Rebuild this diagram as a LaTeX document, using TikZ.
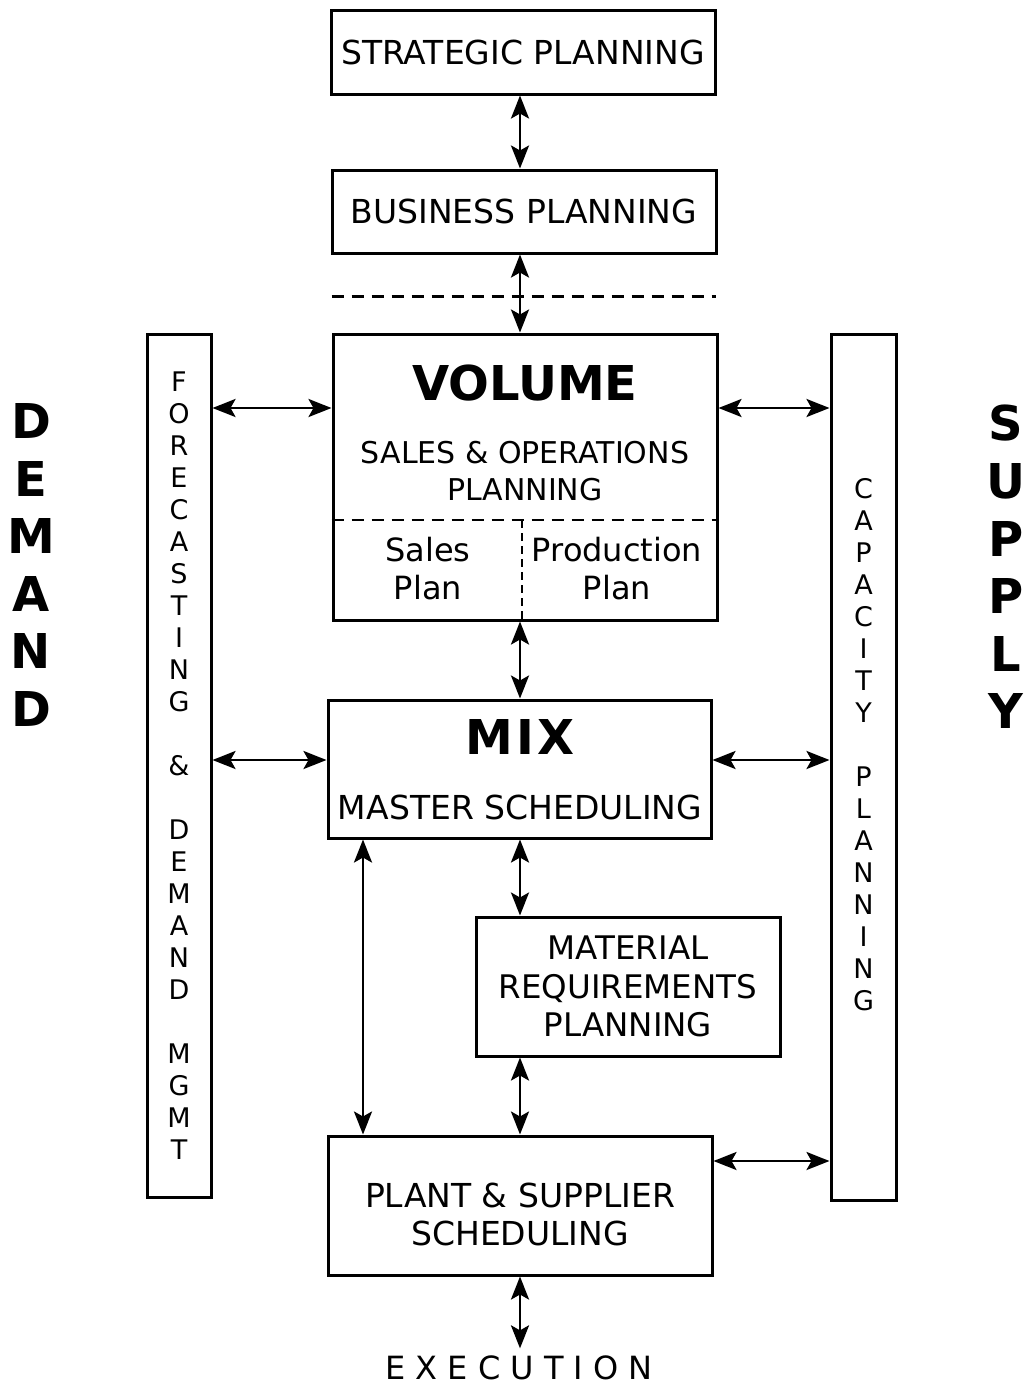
\documentclass[tikz,border=0pt]{standalone}
\usepackage{fontspec}
\setmainfont{DejaVu Sans}
\usetikzlibrary{arrows.meta,positioning}
\tikzset{
  >={Stealth[length=23pt,width=18pt,inset=5pt]},
  ar/.style={<->,line width=2.8pt},
  box/.style={draw,line width=3pt,inner sep=0pt,align=center,font=\fontsize{33}{38}\selectfont},
  txt/.style={align=center,font=\fontsize{33}{38}\selectfont},
  bigt/.style={font=\bfseries\fontsize{48}{56}\selectfont},
  col/.style={align=center,font=\fontsize{27}{32}\selectfont},
  side/.style={align=center,font=\bfseries\fontsize{48}{57.6}\selectfont},
  dsh/.style={line width=2.5pt,dash pattern=on 12pt off 8pt}
}
\begin{document}
\begin{tikzpicture}[x=1pt,y=-1pt]
\useasboundingbox (0,0) rectangle (1027,1387);
\node[box,minimum width=384pt,minimum height=84pt] (strat) at (523,52) {STRATEGIC PLANNING};
\node[box,minimum width=384pt,minimum height=83pt] (bus) at (524,211.5) {BUSINESS PLANNING};
\draw[dsh] ([xshift=1pt,yshift=-42pt]bus.south west) -- ([xshift=-2pt,yshift=-42pt]bus.south east);

\node[box,minimum width=384pt,minimum height=286pt] (vol) at (525,477) {};
\node[bigt] (voltl) at (525,383) {VOLUME};
\node[txt,font=\fontsize{30}{37}\selectfont] (sop) at (525,471) {SALES \& OPERATIONS\\PLANNING};
\draw[dsh] (vol.west |- 0,520) -- (vol.east |- 0,520);
\draw[line width=2.5pt,dash pattern=on 8pt off 5pt] (522,520) -- (vol.south -| 522,0);
\node[txt,font=\fontsize{32}{38}\selectfont] (salesp) at (428,569) {Sales\\Plan};
\node[txt,font=\fontsize{32}{38}\selectfont] (prodp) at (617,569) {Production\\Plan};

\node[box,minimum width=383pt,minimum height=138pt] (mix) at (519.5,769) {};
\node[bigt] (mixtl) at (520,737) {M\kern3ptI\kern3ptX};
\node[txt] (msch) at (520,807) {MASTER SCHEDULING};

\node[box,minimum width=304pt,minimum height=139pt,font=\fontsize{32.5}{38.5}\selectfont] (mrp) at (628,986.5) {MATERIAL\\REQUIREMENTS\\PLANNING};

\node[box,minimum width=384pt,minimum height=139pt] (plant) at (520,1205.5) {};
\node[txt] (plantx) at (520,1214) {PLANT \& SUPPLIER\\SCHEDULING};
\node[txt,font=\fontsize{32}{38}\selectfont] (exec) at (519,1368) {E X E C U T I O N};

\node[box,minimum width=64pt,minimum height=863pt,col] (fcst) at (179,765.5)
  {F\\O\\R\\E\\C\\A\\S\\T\\I\\N\\G\\[32pt]\&\\[32pt]D\\E\\M\\A\\N\\D\\[32pt]M\\G\\M\\T};
\node[box,minimum width=65pt,minimum height=866pt] (cap) at (863.5,767) {};
\node[col] (captx) at (863.5,745) {C\\A\\P\\A\\C\\I\\T\\Y\\[32pt]P\\L\\A\\N\\N\\I\\N\\G};

\node[side] (dem) at (31,565) {D\\E\\M\\A\\N\\D};
\node[side] (sup) at (1006,567) {S\\U\\P\\P\\L\\Y};

\coordinate (sp) at (520,0);
\coordinate (lx) at (363,0);
\draw[ar] (strat.south -| sp) -- (bus.north -| sp);
\draw[ar] (bus.south -| sp) -- (vol.north -| sp);
\draw[ar] (vol.south -| sp) -- (mix.north -| sp);
\draw[ar] (mix.south -| sp) -- (mrp.north -| sp);
\draw[ar] (mrp.south -| sp) -- (plant.north -| sp);
\draw[ar] (plant.south -| sp) -- ([yshift=4pt]exec.north -| sp);
\draw[ar] (mix.south -| lx) -- (plant.north -| lx);
\foreach \a/\y in {vol/408,mix/760}{\draw[ar] (fcst.east |- 0,\y) -- (\a.west |- 0,\y);}
\foreach \a/\y in {vol/408,mix/760,plant/1161}{\draw[ar] (\a.east |- 0,\y) -- (cap.west |- 0,\y);}
\end{tikzpicture}
\end{document}
